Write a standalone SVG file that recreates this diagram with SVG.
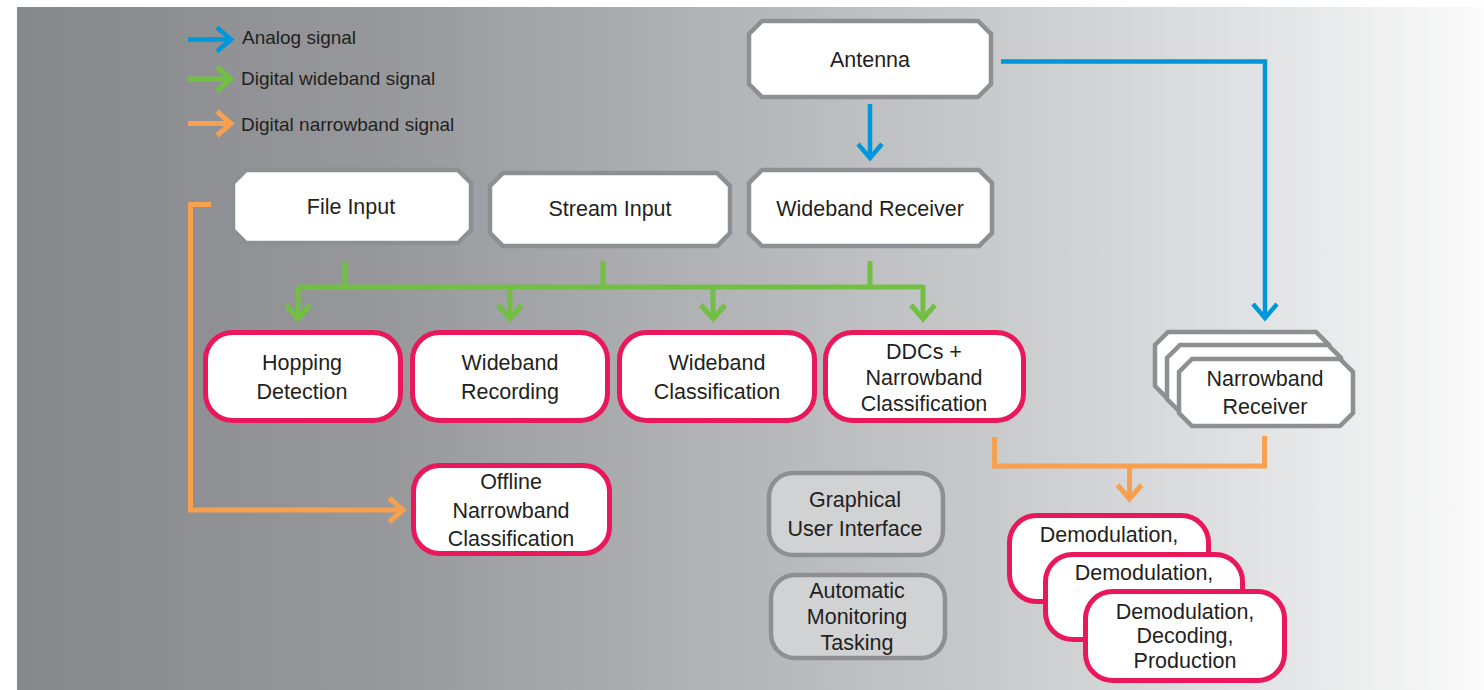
<svg xmlns="http://www.w3.org/2000/svg" width="1484" height="690" viewBox="0 0 1484 690">
<defs>
<linearGradient id="bg" x1="0" y1="0" x2="1" y2="0">
<stop offset="0" stop-color="#87888c"/>
<stop offset="0.25" stop-color="#97989c"/>
<stop offset="0.45" stop-color="#aeb0b3"/>
<stop offset="0.65" stop-color="#c6c8ca"/>
<stop offset="0.85" stop-color="#e2e3e4"/>
<stop offset="1" stop-color="#fbfbfb"/>
</linearGradient>
<marker id="mb" markerUnits="userSpaceOnUse" markerWidth="40" markerHeight="40" viewBox="-20 -20 40 40" refX="0" refY="0" orient="auto" overflow="visible"><path d="M-14,-12 L0,0 L-14,12" fill="none" stroke="#0096da" stroke-width="4.5"/></marker>
<marker id="mg" markerUnits="userSpaceOnUse" markerWidth="40" markerHeight="40" viewBox="-20 -20 40 40" refX="0" refY="0" orient="auto" overflow="visible"><path d="M-14,-12 L0,0 L-14,12" fill="none" stroke="#72bf44" stroke-width="5"/></marker>
<marker id="mo" markerUnits="userSpaceOnUse" markerWidth="40" markerHeight="40" viewBox="-20 -20 40 40" refX="0" refY="0" orient="auto" overflow="visible"><path d="M-14,-12 L0,0 L-14,12" fill="none" stroke="#f7a04f" stroke-width="5"/></marker>
</defs>
<style>
text{font-family:"Liberation Sans",Arial,sans-serif;fill:#231f20;text-anchor:middle;font-size:21.5px}
.leg{font-size:19px;text-anchor:start}
.oct{fill:#ffffff;stroke:#8e8f92;stroke-width:4.5}
.pk{fill:#ffffff;stroke:#e8185b;stroke-width:5}
.gr{fill:#d1d2d4;stroke:#8e8f92;stroke-width:4.5}
.cb{fill:none;stroke:#0096da;stroke-width:4.5}
.cg{fill:none;stroke:#72bf44;stroke-width:5}
.co{fill:none;stroke:#f7a04f;stroke-width:5}
</style>
<rect x="17" y="7" width="1467" height="683" fill="url(#bg)"/>

<g id="legend">
<path class="cb" d="M188,39.5 H231" marker-end="url(#mb)"/>
<path class="cg" d="M188,79 H231" marker-end="url(#mg)"/>
<path class="co" d="M188,123.5 H231" marker-end="url(#mo)"/>
<text class="leg" x="242" y="44">Analog signal</text>
<text class="leg" x="241" y="85">Digital wideband signal</text>
<text class="leg" x="241" y="131">Digital narrowband signal</text>
</g>

<g id="connectors">
<path class="cb" d="M870,104 V158" marker-end="url(#mb)"/>
<path class="cb" d="M1001,61.5 H1265 V318" marker-end="url(#mb)"/>
<path class="cg" d="M345,261 V287"/>
<path class="cg" d="M603,261 V287"/>
<path class="cg" d="M870,261 V287"/>
<path class="cg" d="M298,287 H923"/>
<path class="cg" d="M298,287 V319" marker-end="url(#mg)"/>
<path class="cg" d="M510,287 V319" marker-end="url(#mg)"/>
<path class="cg" d="M713,287 V319" marker-end="url(#mg)"/>
<path class="cg" d="M923,285 V319" marker-end="url(#mg)"/>
<path class="co" d="M211,204.5 H190.5 V510 H403" marker-end="url(#mo)"/>
<path class="co" d="M994.5,437 V466 H1264.5 V436"/>
<path class="co" d="M1129.5,466 V499" marker-end="url(#mo)"/>
</g>

<g id="antenna">
<path class="oct" d="M762,21 H978 L991,34 V84 L978,97 H762 L749,84 V34 Z"/>
<text x="870" y="67">Antenna</text>
</g>
<g id="file-input">
<path class="oct" d="M246,170 H458 L471,183 V230 L458,243 H246 L233,230 V183 Z"/>
<text x="351" y="214">File Input</text>
</g>
<g id="stream-input">
<path class="oct" d="M503,173 H717 L730,186 V233 L717,246 H503 L490,233 V186 Z"/>
<text x="610" y="216">Stream Input</text>
</g>
<g id="wideband-receiver">
<path class="oct" d="M762,170 H979 L992,183 V233 L979,246 H762 L749,233 V183 Z"/>
<text x="870" y="216">Wideband Receiver</text>
</g>

<g id="narrowband-receiver">
<path class="oct" d="M1168,332 H1316 L1329,345 V386 L1316,399 H1168 L1155,386 V345 Z"/>
<path class="oct" d="M1180,345 H1328 L1341,358 V399 L1328,412 H1180 L1167,399 V358 Z"/>
<path class="oct" d="M1192,359 H1340 L1353,372 V413 L1340,426 H1192 L1179,413 V372 Z"/>
<text x="1265" y="386">Narrowband</text>
<text x="1265" y="414">Receiver</text>
</g>

<g id="hopping-detection">
<rect class="pk" x="205.5" y="332.5" width="195" height="88" rx="27"/>
<text x="302" y="370">Hopping</text>
<text x="302" y="399">Detection</text>
</g>
<g id="wideband-recording">
<rect class="pk" x="412.5" y="332.5" width="195" height="88" rx="27"/>
<text x="510" y="370">Wideband</text>
<text x="510" y="399">Recording</text>
</g>
<g id="wideband-classification">
<rect class="pk" x="619.5" y="332.5" width="195" height="88" rx="27"/>
<text x="717" y="370">Wideband</text>
<text x="717" y="399">Classification</text>
</g>
<g id="ddcs">
<rect class="pk" x="825.5" y="332.5" width="198" height="88" rx="27"/>
<text x="924" y="359">DDCs +</text>
<text x="924" y="385">Narrowband</text>
<text x="924" y="411">Classification</text>
</g>
<g id="offline">
<rect class="pk" x="413.5" y="465.5" width="196" height="88" rx="26"/>
<text x="511" y="489">Offline</text>
<text x="511" y="518">Narrowband</text>
<text x="511" y="546">Classification</text>
</g>

<g id="gui">
<rect class="gr" x="769" y="473" width="174" height="82" rx="24"/>
<text x="855" y="507">Graphical</text>
<text x="855" y="536">User Interface</text>
</g>
<g id="amt">
<rect class="gr" x="771" y="575" width="174" height="83" rx="24"/>
<text x="857" y="598">Automatic</text>
<text x="857" y="624">Monitoring</text>
<text x="857" y="650">Tasking</text>
</g>

<g id="demod">
<rect class="pk" x="1009.5" y="515.5" width="199" height="86" rx="27"/>
<text x="1109" y="542">Demodulation,</text>
<text x="1109" y="570">Decoding,</text>
<rect class="pk" x="1045.5" y="554.5" width="197" height="85" rx="27"/>
<text x="1144" y="580">Demodulation,</text>
<text x="1144" y="608">Decoding,</text>
<rect class="pk" x="1085.5" y="591.5" width="199" height="89" rx="27"/>
<text x="1185" y="619">Demodulation,</text>
<text x="1185" y="643">Decoding,</text>
<text x="1185" y="668">Production</text>
</g>
</svg>
